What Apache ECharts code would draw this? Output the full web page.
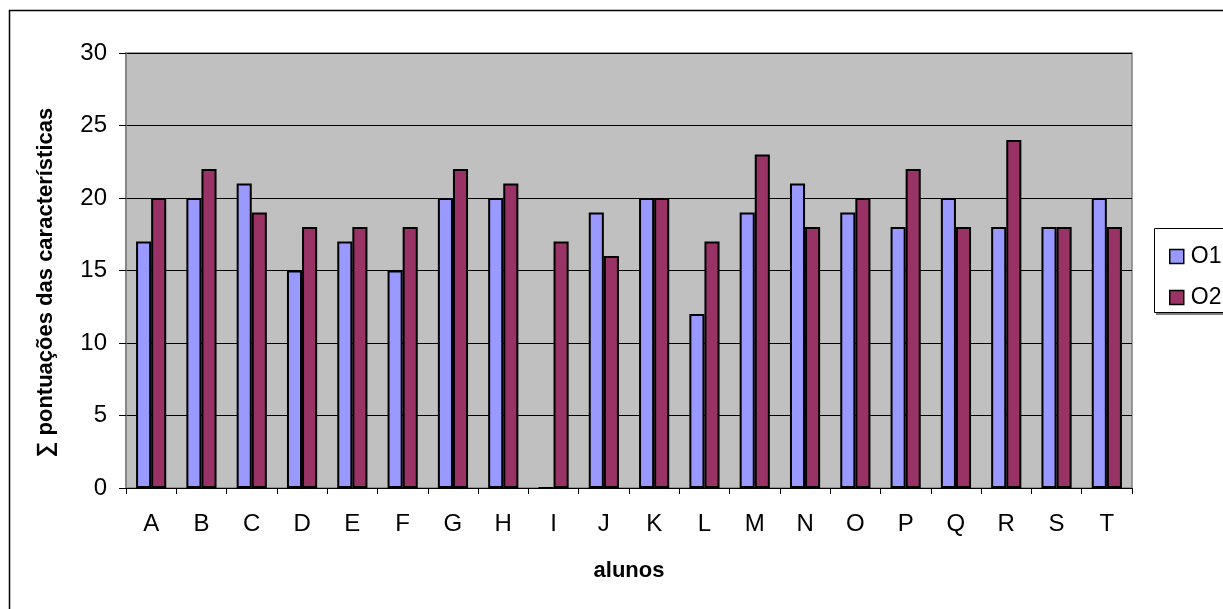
<!DOCTYPE html>
<html>
<head>
<meta charset="utf-8">
<script src="https://cdn.jsdelivr.net/npm/echarts@6/dist/echarts.min.js"></script>
<style>html,body{margin:0;padding:0;background:#fff}#c{width:1223px;height:609px}</style>
</head>
<body>
<div id="c"></div>
<script>
const categories = ['A','B','C','D','E','F','G','H','I','J','K','L','M','N','O','P','Q','R','S','T'];
const o1 = [17,20,21,15,17,15,20,20,0,19,20,12,19,21,19,18,20,18,18,20];
const o2 = [20,22,19,18,18,18,22,21,17,16,20,17,23,18,20,22,18,24,18,18];
const yTicks = {min:0, max:30, interval:5};

const chart = echarts.init(document.getElementById('c'), null, {renderer:'canvas'});
const font = 'Arial, "Liberation Sans", sans-serif';
chart.setOption({
  animation:false,
  backgroundColor:'#fff',
  graphic:[
    {type:'rect', shape:{x:9.5,y:10.5,width:1230,height:620}, style:{fill:'none',stroke:'#000',lineWidth:1.5}, z:-1},
    {type:'rect', shape:{x:1156,y:230,width:100,height:85}, style:{fill:'#808080'}, z:0},
    {type:'rect', shape:{x:1154.5,y:228.5,width:100,height:84}, style:{fill:'#fff',stroke:'#000',lineWidth:1}, z:1}
  ],
  legend:{
    orient:'vertical', left:1164, top:240, itemWidth:14, itemHeight:14, itemGap:18,
    icon:'rect', z:5,
    itemStyle:{borderColor:'#000', borderWidth:1.5},
    textStyle:{fontFamily:font, fontSize:23, color:'#000', padding:[0,0,0,2]},
    data:['O1','O2']
  },
  grid:{left:126, right:91, top:53, bottom:121, show:true, backgroundColor:'#C0C0C0', borderColor:'#808080', borderWidth:1.5},
  xAxis:{
    type:'category', data:categories,
    axisLine:{lineStyle:{color:'#000', width:1}},
    axisTick:{show:true, length:6, lineStyle:{color:'#000'}},
    axisLabel:{fontFamily:font, fontSize:24, color:'#000', margin:24},
    name:'alunos', nameLocation:'middle', nameGap:72,
    nameTextStyle:{fontFamily:font, fontSize:22, fontWeight:'bold', color:'#000'}
  },
  yAxis:{
    type:'value', min:yTicks.min, max:yTicks.max, interval:yTicks.interval,
    axisLine:{show:true, lineStyle:{color:'#808080', width:1.5}},
    axisTick:{show:true, length:7, lineStyle:{color:'#000'}},
    axisLabel:{fontFamily:font, fontSize:24, color:'#000', margin:19},
    splitLine:{lineStyle:{color:'#000', width:1}},
    name:'∑ pontuações das características', nameLocation:'middle', nameGap:69,
    nameTextStyle:{fontFamily:font, fontSize:22, fontWeight:'bold', color:'#000', padding:[0,24,0,0]}
  },
  series:[
    {name:'O1', type:'bar', data:o1, barGap:'0%', barCategoryGap:'40%',
     itemStyle:{color:'#9999FF', borderColor:'#000', borderWidth:2}},
    {name:'O2', type:'bar', data:o2, barGap:'0%', barCategoryGap:'40%',
     itemStyle:{color:'#993366', borderColor:'#000', borderWidth:2}}
  ]
});
</script>
</body>
</html>
